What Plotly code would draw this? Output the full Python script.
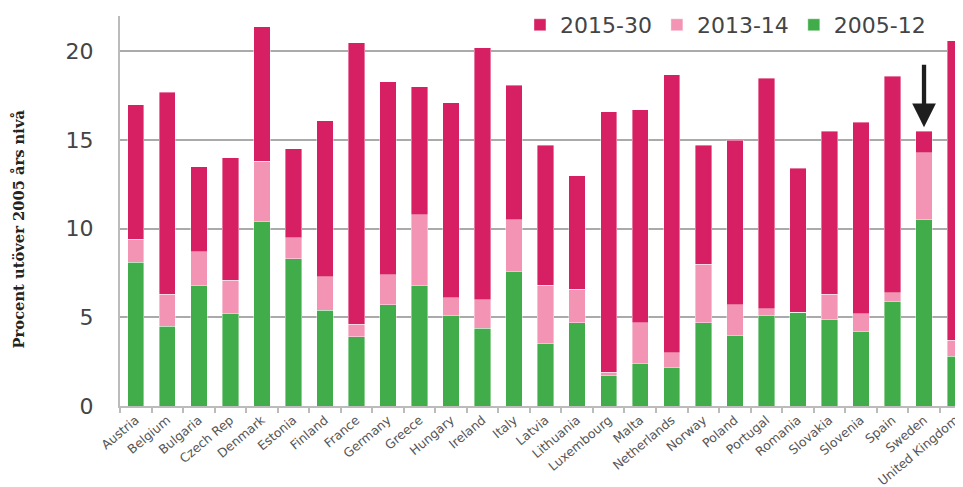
import plotly.graph_objects as go

countries = ["Austria", "Belgium", "Bulgaria", "Czech Rep", "Denmark", "Estonia", "Finland",
             "France", "Germany", "Greece", "Hungary", "Ireland", "Italy", "Latvia", "Lithuania",
             "Luxembourg", "Malta", "Netherlands", "Norway", "Poland", "Portugal", "Romania",
             "Slovakia", "Slovenia", "Spain", "Sweden", "United Kingdom"]

# contribution of each period (stacked)
p2005_12 = [8.1, 4.5, 6.8, 5.2, 10.4, 8.3, 5.4, 3.9, 5.7, 6.8, 5.1, 4.4, 7.6, 3.5, 4.7,
            1.7, 2.4, 2.2, 4.7, 4.0, 5.1, 5.3, 4.9, 4.2, 5.9, 10.5, 2.8]
p2013_14 = [1.3, 1.8, 1.9, 1.9, 3.4, 1.2, 1.9, 0.7, 1.7, 4.0, 1.0, 1.6, 2.9, 3.3, 1.9,
            0.2, 2.3, 0.8, 3.3, 1.7, 0.4, 0.0, 1.4, 1.0, 0.5, 3.8, 0.9]
p2015_30 = [7.6, 11.4, 4.8, 6.9, 7.6, 5.0, 8.8, 15.9, 10.9, 7.2, 11.0, 14.2, 7.6, 7.9, 6.4,
            14.7, 12.0, 15.7, 6.7, 9.3, 13.0, 8.1, 9.2, 10.8, 12.2, 1.2, 16.9]

y_ticks = [0, 5, 10, 15, 20]
y_title = "Procent utöver 2005 års nivå"
highlight = "Sweden"

GREEN = "#41ad4a"
PINK = "#f394b4"
MAGENTA = "#d72063"

edge = dict(width=0.8, color="rgba(255,255,255,0.5)")
fig = go.Figure()
fig.add_trace(go.Bar(x=countries, y=p2005_12, name="2005-12", marker_color=GREEN, marker_line=edge))
fig.add_trace(go.Bar(x=countries, y=p2013_14, name="2013-14", marker_color=PINK, marker_line=edge))
fig.add_trace(go.Bar(x=countries, y=p2015_30, name="2015-30", marker_color=MAGENTA, marker_line=edge))

totals = [a + b + c for a, b, c in zip(p2005_12, p2013_14, p2015_30)]
sw_total = totals[countries.index(highlight)]

fig.add_annotation(x=highlight, y=sw_total, xref="x", yref="y", ax=0, ay=-68,
                   showarrow=True, arrowhead=2, arrowwidth=4.3, arrowsize=1.1,
                   arrowcolor="#1e1e1e", standoff=4, text="")

fig.add_annotation(text=y_title, xref="paper", yref="paper", x=0, y=0.454,
                   xshift=-101.5, textangle=-90, showarrow=False,
                   font=dict(family="DejaVu Serif", size=14.7, color="#222222", weight=700),
                   xanchor="center", yanchor="middle")

fig.update_layout(
    width=963, height=487,
    margin=dict(l=112, r=0, t=8, b=89, autoexpand=False),
    barmode="stack", bargap=0.48,
    plot_bgcolor="white", paper_bgcolor="white",
    font=dict(family="DejaVu Sans", color="#444444"),
    showlegend=True,
    legend=dict(orientation="h", traceorder="reversed", x=0.470, y=0.977,
                xanchor="left", yanchor="middle",
                font=dict(size=22, color="#444444"), bgcolor="rgba(0,0,0,0)"),
    xaxis=dict(range=[-0.5, 26.49], showline=True, linecolor="#bbbbbb", linewidth=2,
               ticks="outside", tickson="boundaries", ticklen=5, tickcolor="#bbbbbb",
               tickwidth=1.5, tickangle=-40, tickfont=dict(size=12.5, color="#555555"),
               showgrid=False, automargin=False),
    yaxis=dict(range=[0, 22], tickvals=y_ticks, showline=True, linecolor="#bbbbbb",
               linewidth=2, showgrid=True, gridcolor="#aaaaaa", gridwidth=1.5,
               ticks="outside", ticklen=20, tickcolor="rgba(0,0,0,0)",
               tickfont=dict(size=22, color="#444444"), zeroline=False, automargin=False),
)

fig.write_html("out.html")
